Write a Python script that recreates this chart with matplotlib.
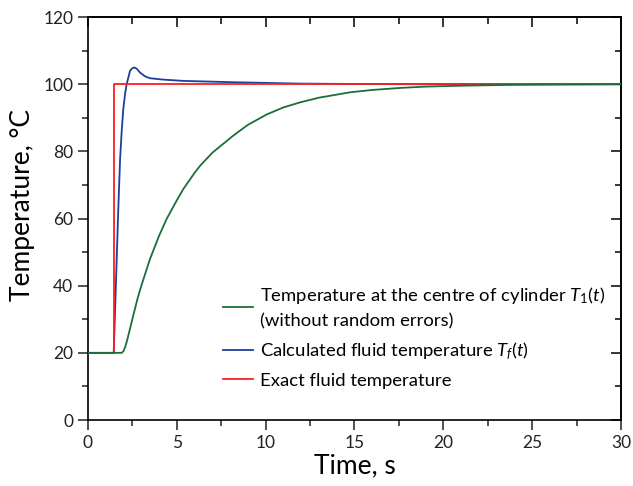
import matplotlib
matplotlib.use('Agg')
import matplotlib.pyplot as plt
from matplotlib.ticker import MultipleLocator

plt.rcParams['font.family'] = ['Lato', 'DejaVu Sans']
plt.rcParams['mathtext.fontset'] = 'custom'
plt.rcParams['mathtext.rm'] = 'Lato'
plt.rcParams['mathtext.it'] = 'Lato:italic'

# temperature at the centre of cylinder
t_centre = [0, 1.9, 2.0, 2.1, 2.2, 2.35, 2.56, 2.8, 3.0, 3.49, 4.0, 4.43, 5.0, 5.37,
            6.0, 6.31, 7.0, 8.18, 9.0, 10.06, 11.0, 11.94, 13.0, 14.75, 16.0,
            17.56, 19.0, 21.3, 24.0, 27.0, 30.0]
T_centre = [20, 20, 20.5, 21.8, 23.6, 26.8, 31.3, 36.3, 39.9, 47.9, 54.8, 59.9, 65.4, 68.8,
            73.6, 75.7, 79.6, 84.7, 87.9, 91.0, 93.1, 94.6, 96.0, 97.6, 98.3,
            98.9, 99.3, 99.6, 99.83, 99.93, 100]

# calculated fluid temperature
t_calc = [0, 1.45, 1.5, 1.62, 1.71, 1.81, 1.9, 1.99, 2.1, 2.18, 2.37, 2.5, 2.62,
          2.75, 2.93, 3.2, 3.49, 4.2, 5.37, 8.2, 11.9, 16.0, 20.0, 30.0]
T_calc = [20, 20, 28, 47.9, 63, 77.7, 86, 92.6, 97.5, 100, 104, 104.8, 105.0,
          104.6, 103.5, 102.4, 101.8, 101.4, 101.0, 100.6, 100.2, 100.05, 100, 100]

# exact fluid temperature (step)
t_exact = [0, 1.45, 1.45, 30]
T_exact = [20, 20, 100, 100]

labels = [r'Temperature at the centre of cylinder $T_1(t)$' + '\n(without random errors)',
          r'Calculated fluid temperature $T_f(t)$',
          'Exact fluid temperature']

fig = plt.figure(figsize=(6.33, 4.86), dpi=100)
ax = fig.add_axes([0.1389, 0.1358, 0.8421, 0.829])

h1, = ax.plot(t_centre, T_centre, color='#1b6e3c', lw=1.3, zorder=4)
h2, = ax.plot(t_calc, T_calc, color='#1c3e9e', lw=1.3, zorder=2)
h3, = ax.plot(t_exact, T_exact, color='#ff1e1e', lw=1.3, zorder=3)

ax.set_xlim(0, 30)
ax.set_ylim(0, 120)
ax.xaxis.set_major_locator(MultipleLocator(5))
ax.xaxis.set_minor_locator(MultipleLocator(2.5))
ax.yaxis.set_major_locator(MultipleLocator(20))
ax.yaxis.set_minor_locator(MultipleLocator(10))
ax.tick_params(which='both', direction='out', width=1.1, labelsize=12.5, colors='#222222')
ax.tick_params(which='major', length=7)
ax.tick_params(which='minor', length=4)
for s in ax.spines.values():
    s.set_linewidth(1.2)

# inward ticks on top and right
top = ax.secondary_xaxis('top')
top.xaxis.set_major_locator(MultipleLocator(5))
top.xaxis.set_minor_locator(MultipleLocator(2.5))
top.tick_params(which='both', direction='in', width=1.1, labeltop=False)
top.tick_params(which='major', length=7)
top.tick_params(which='minor', length=5)
top.spines['top'].set_linewidth(1.2)
right = ax.secondary_yaxis('right')
right.yaxis.set_major_locator(MultipleLocator(20))
right.yaxis.set_minor_locator(MultipleLocator(10))
right.tick_params(which='both', direction='in', width=1.1, labelright=False)
right.tick_params(which='major', length=7)
right.tick_params(which='minor', length=4)
right.spines['right'].set_linewidth(1.2)

ax.set_xlabel('Time, s', fontsize=19, labelpad=2)
ax.set_ylabel('Temperature, °C', fontsize=19)
ax.yaxis.set_label_coords(-0.1, 0.533)

leg = ax.legend([h1, h2, h3], labels, loc='upper left', bbox_to_anchor=(0.2534, 0.335),
                frameon=False, fontsize=13.3, handlelength=1.6, handletextpad=0.4,
                borderpad=0, borderaxespad=0, labelspacing=0.6)
leg.get_texts()[0].set_linespacing(1.55)

fig.savefig('out.png', dpi=100)
